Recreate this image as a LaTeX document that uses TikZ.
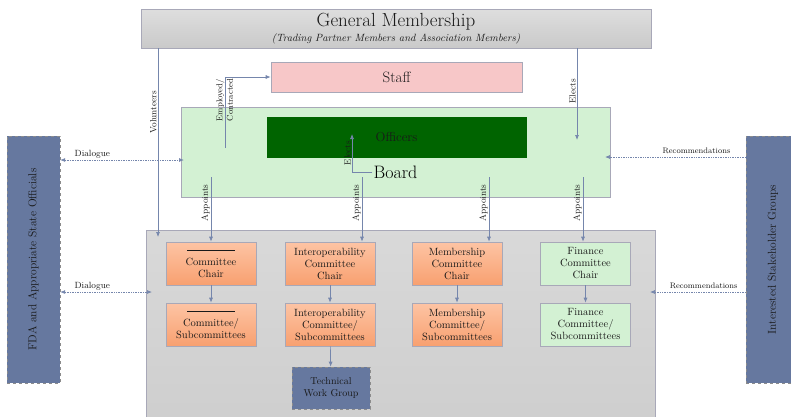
\documentclass[tikz,border=0pt]{standalone}
\usepackage{tikz}
\usepackage{graphicx}
\usetikzlibrary{arrows.meta}

\definecolor{linkblue}{HTML}{7586AC}
\definecolor{edgegray}{HTML}{A8A8B8}
\definecolor{staffpink}{HTML}{F7C7C8}
\definecolor{boardgreen}{HTML}{D3F1D3}
\definecolor{officergreen}{HTML}{006400}
\definecolor{outerblue}{HTML}{66789F}
\definecolor{orangetop}{HTML}{FDC4A4}
\definecolor{orangebot}{HTML}{F8A070}

\begin{document}
\begin{tikzpicture}[x=1pt, y=-1pt, >={Latex[length=5pt,width=4pt]},
		plain box/.style={draw=edgegray, line width=0.6pt, inner sep=1pt, align=center},
		comm box/.style={plain box, minimum width=90pt, minimum height=43pt,
			font=\fontsize{10.5}{12}\selectfont, text=black!90},
		orange box/.style={comm box, top color=orangetop, bottom color=orangebot},
		green box/.style={comm box, fill=boardgreen},
		outer box/.style={draw=black!45, dashed, fill=outerblue, inner sep=0pt,
			minimum width=53pt, minimum height=247pt, text=black!90,
			font=\fontsize{11.5}{13}\selectfont},
		link/.style={draw=linkblue, line width=0.7pt, ->},
		talk/.style={draw=linkblue, densely dotted, line width=0.7pt},
		lbl/.style={font=\fontsize{9}{10}\selectfont, text=black!90, inner sep=1pt}]
		
		\useasboundingbox (0,0) rectangle (791,416);
		
		% big areas
		\node[plain box, top color=black!13, bottom color=black!21, minimum width=510pt,
			minimum height=39pt, font=\fontsize{19}{19}\selectfont, text=black!90] (gm) at (396,28.5)
			{General Membership\\[-4pt]{\fontsize{10.5}{11}\selectfont\itshape (Trading Partner Members and Association Members)}};
		\node[plain box, top color=black!15, bottom color=black!19, minimum width=509pt,
			minimum height=190pt] (area) at (400.5,325) {};
		\node[plain box, fill=boardgreen, minimum width=429pt, minimum height=90pt] (board) at (395.5,152) {};
		\node[plain box, draw=officergreen, fill=officergreen, minimum width=259pt, minimum height=40pt,
			font=\fontsize{13}{14}\selectfont, text=black!90] (officers) at (396.5,137) {Officers};
		\node[font=\fontsize{18}{19}\selectfont, inner sep=1pt] (boardlbl) at (395.5,172) {Board};
		\node[plain box, fill=staffpink, minimum width=251pt, minimum height=30pt,
			font=\fontsize{15}{16}\selectfont, text=black!90] (staff) at (396.5,77) {Staff};
		\node[outer box] (fda) at (33.5,259.5) {\rotatebox{90}{FDA and Appropriate State Officials}};
		\node[outer box, minimum width=54pt] (isg) at (773,259.5) {\rotatebox{90}{Interested Stakeholder Groups}};
		
		% committees
		\node[orange box] (c1) at (211,263.5) {\rule[3pt]{48pt}{0.4pt}\\Committee\\Chair};
		\node[orange box] (c2) at (330,263.5) {Interoperability\\Committee\\Chair};
		\node[orange box] (c3) at (457,263.5) {Membership\\Committee\\Chair};
		\node[green box] (c4) at (585.5,263.5) {Finance\\Committee\\Chair};
		\node[orange box] (s1) at (211,324.5) {\rule[3pt]{48pt}{0.4pt}\\Committee/\\Subcommittees};
		\node[orange box] (s2) at (330,324.5) {Interoperability\\Committee/\\Subcommittees};
		\node[orange box] (s3) at (457,324.5) {Membership\\Committee/\\Subcommittees};
		\node[green box] (s4) at (585.5,324.5) {Finance\\Committee/\\Subcommittees};
		\node[plain box, dashed, draw=black!45, fill=outerblue, minimum width=78pt, minimum height=42pt,
			font=\fontsize{10}{12}\selectfont, text=black!90] (twg) at (331,388) {Technical\\Work Group};
		
		% links
		\coordinate (vol) at (158,237);
		\draw[link] (vol |- gm.south) -- node[lbl, rotate=90, anchor=south, pos=0.34] {Volunteers} (vol);
		\coordinate (elr) at (577,140);
		\draw[link] (elr |- gm.south) -- node[lbl, rotate=90, anchor=south, pos=0.47] {Elects} (elr);
		\coordinate (emp) at (225,148);
		\draw[link] (emp) |- (staff.west);
		\node[lbl, rotate=90, align=center, font=\fontsize{8.5}{10.5}\selectfont] (emplbl) at (224.5,100) {Employed/\\Contracted};
		\coordinate (elo) at (352,134);
		\draw[link] (boardlbl.west) -| node[lbl, rotate=90, anchor=south, pos=0.75] {Elects} (elo);
		
		\foreach \x/\c [count=\i] in {211/c1, 362/c2, 489/c3, 583/c4} {
			\coordinate (ap\i) at (\x,177);
			\draw[link] (ap\i) -- node[lbl, rotate=90, anchor=south, pos=0.4] {Appoints} (ap\i |- \c.north);
		}
		
		\path (c1) edge[link] (s1)
		(c2) edge[link] (s2)
		(c3) edge[link] (s3)
		(c4) edge[link] (s4)
		(s2) edge[link] (twg);
		
		% dialogue and recommendations
		\coordinate (dia1) at (184,160);
		\coordinate (dia2) at (152,292);
		\draw[talk, <->] (dia1 -| fda.east) -- node[lbl, above, pos=0.26] {Dialogue} (dia1);
		\draw[talk, <->] (dia2 -| fda.east) -- node[lbl, above, pos=0.35] {Dialogue} (dia2);
		\coordinate (rec1) at (605,157);
		\coordinate (rec2) at (650,292);
		\draw[talk, ->] (rec1 -| isg.west) -- node[lbl, above=2pt, pos=0.35, font=\fontsize{8}{9}\selectfont] {Recommendations} (rec1);
		\draw[talk, ->] (rec2 -| isg.west) -- node[lbl, above=2pt, pos=0.44, font=\fontsize{8}{9}\selectfont] {Recommendations} (rec2);
\end{tikzpicture}
\end{document}
